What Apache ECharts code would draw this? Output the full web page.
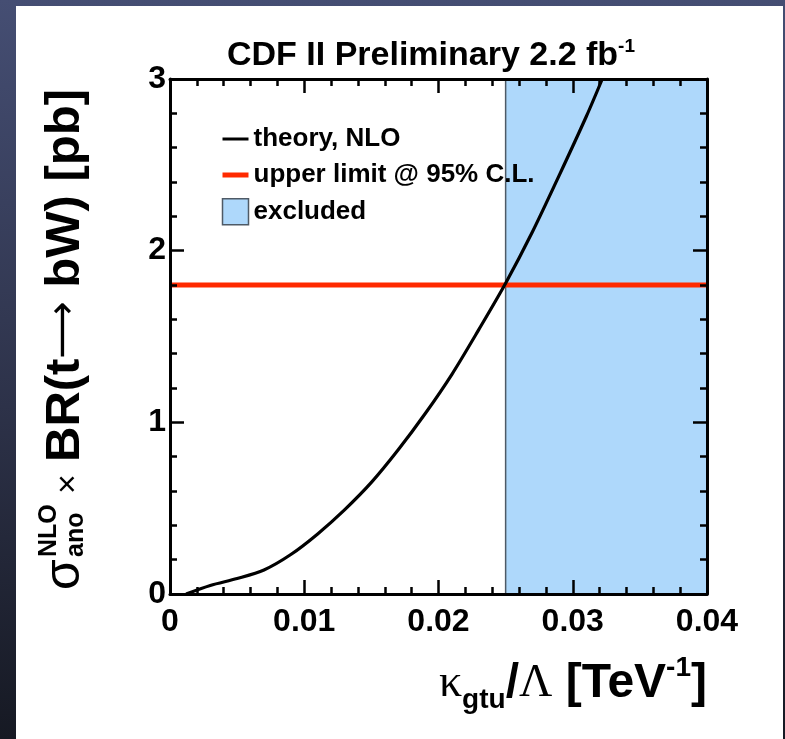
<!DOCTYPE html>
<html>
<head>
<meta charset="utf-8">
<script src="https://cdn.jsdelivr.net/npm/echarts@6/dist/echarts.min.js"></script>
<style>
html, body { margin: 0; padding: 0; }
body {
  width: 785px;
  height: 739px;
  position: relative;
  overflow: hidden;
  background: linear-gradient(to bottom, #454e73 0%, #2d3249 55%, #161923 100%);
}
#panel { position: absolute; left: 16px; top: 6px; width: 767px; height: 733px; background: #fff; }
#chart { position: absolute; left: 0; top: 0; width: 785px; height: 739px; }
</style>
</head>
<body>
<div id="panel"></div>
<div id="chart"></div>
<script>
// theory curve
var kappa = [0.0012, 0.0030, 0.0050, 0.0070, 0.0090, 0.0110, 0.0130, 0.0150, 0.0170,
             0.0190, 0.0210, 0.0230, 0.0250, 0.0270, 0.0290, 0.0310, 0.0322];
var sigmaNLO = [0.00, 0.05, 0.09, 0.14, 0.23, 0.35, 0.49, 0.65, 0.84,
                1.05, 1.28, 1.54, 1.81, 2.11, 2.44, 2.78, 3.0];

// 95% CL upper limit and excluded region
var upperLimit = 1.8;
var excludedFrom = 0.025;

// axes
var xTicks = [0, 0.01, 0.02, 0.03, 0.04];
var xTickLabels = ["0", "0.01", "0.02", "0.03", "0.04"];
var yTicks = [0, 1, 2, 3];
var yTickLabels = ["0", "1", "2", "3"];

var FONT = '"Liberation Sans", Arial, Helvetica, sans-serif';
var SERIF = '"Liberation Serif", "Times New Roman", serif';

var xMin = xTicks[0], xMax = xTicks[xTicks.length - 1];
var yMin = yTicks[0], yMax = yTicks[yTicks.length - 1];

function xAxisCfg(pos, labels) {
  return {
    type: "value",
    position: pos,
    min: xMin,
    max: xMax,
    interval: 0.01,
    z: 10,
    axisLine: { onZero: false, lineStyle: { color: "#000", width: 3 } },
    axisTick: { inside: true, length: 14, lineStyle: { color: "#000", width: 2.5 } },
    minorTick: { show: true, splitNumber: 5, length: 7, lineStyle: { color: "#000", width: 2.5 } },
    splitLine: { show: false },
    minorSplitLine: { show: false },
    axisLabel: {
      show: labels,
      margin: 12,
      color: "#000",
      fontFamily: FONT,
      fontWeight: "bold",
      fontSize: 32,
      formatter: function (v, i) { return xTickLabels[i]; }
    }
  };
}

function yAxisCfg(pos, labels) {
  return {
    type: "value",
    position: pos,
    min: yMin,
    max: yMax,
    interval: 1,
    z: 10,
    axisLine: { onZero: false, lineStyle: { color: "#000", width: 3 } },
    axisTick: { inside: true, length: 14, lineStyle: { color: "#000", width: 2.5 } },
    minorTick: { show: true, splitNumber: 5, length: 7, lineStyle: { color: "#000", width: 2.5 } },
    splitLine: { show: false },
    minorSplitLine: { show: false },
    axisLabel: {
      show: labels,
      margin: 4,
      padding: [0, 0, 10, 0],
      color: "#000",
      fontFamily: FONT,
      fontWeight: "bold",
      fontSize: 32,
      formatter: function (v, i) { return yTickLabels[i]; }
    }
  };
}

var curve = kappa.map(function (k, i) { return [k, sigmaNLO[i]]; });

var chart = echarts.init(document.getElementById("chart"), null, { renderer: "canvas" });

chart.setOption({
  animation: false,
  backgroundColor: "transparent",
  title: {
    text: "{m|CDF II Preliminary 2.2 fb}{s|-1}",
    left: 227,
    top: 37,
    padding: 0,
    textStyle: {
      rich: {
        m: { fontFamily: FONT, fontWeight: "bold", fontSize: 34, lineHeight: 38, color: "#000" },
        s: { fontFamily: FONT, fontWeight: "bold", fontSize: 19, lineHeight: 18, verticalAlign: "top", color: "#000" }
      }
    }
  },
  legend: {
    orient: "vertical",
    left: 215,
    top: 121,
    itemWidth: 26,
    itemHeight: 26,
    itemGap: 10,
    selectedMode: false,
    textStyle: { fontFamily: FONT, fontWeight: "bold", fontSize: 26, color: "#000" },
    data: [
      { name: "theory, NLO", itemStyle: { opacity: 0 }, lineStyle: { width: 3, color: "#000" } },
      { name: "upper limit @ 95% C.L.", itemStyle: { opacity: 0 }, lineStyle: { width: 5, color: "#ff2a00" } },
      { name: "excluded", icon: "rect", itemStyle: { color: "#aed8fb", borderColor: "#4e5a66", borderWidth: 1.5, opacity: 1 } }
    ]
  },
  grid: { left: 170, right: 78, top: 79, bottom: 145 },
  xAxis: [xAxisCfg("bottom", true), xAxisCfg("top", false)],
  yAxis: [yAxisCfg("left", true), yAxisCfg("right", false)],
  series: [
    {
      name: "excluded",
      type: "line",
      data: [[excludedFrom, yMax], [xMax, yMax]],
      symbol: "none",
      color: "#aed8fb",
      lineStyle: { width: 0 },
      areaStyle: { color: "#aed8fb", opacity: 1, origin: "start" },
      z: 1
    },
    {
      name: "boundary",
      type: "line",
      data: [[excludedFrom, yMin], [excludedFrom, yMax]],
      symbol: "none",
      color: "#4e5a66",
      lineStyle: { color: "#4e5a66", width: 1.5 },
      z: 2
    },
    {
      name: "upper limit @ 95% C.L.",
      type: "line",
      data: [[xMin, upperLimit], [xMax, upperLimit]],
      symbol: "none",
      color: "#ff2a00",
      lineStyle: { color: "#ff2a00", width: 5 },
      z: 3
    },
    {
      name: "theory, NLO",
      type: "line",
      data: curve,
      smooth: 0.3,
      symbol: "none",
      color: "#000",
      lineStyle: { color: "#000", width: 3.2 },
      z: 4
    }
  ],
  graphic: [
    {
      // y axis title, reads bottom to top
      type: "group",
      x: 81,
      y: 590,
      rotation: Math.PI / 2,
      children: [
        { type: "text", x: 0, y: -16, style: { text: "σ", font: "50px " + FONT, fill: "#000", verticalAlign: "middle" } },
        { type: "text", x: 33, y: -32, style: { text: "NLO", font: "bold 25px " + FONT, fill: "#000", verticalAlign: "middle" } },
        { type: "text", x: 33, y: -5, style: { text: "ano", font: "bold 25px " + FONT, fill: "#000", verticalAlign: "middle" } },
        { type: "text", x: 96, y: -12, style: { text: "×", font: "34px " + FONT, fill: "#000", verticalAlign: "middle" } },
        {
          type: "text", x: 128, y: -16,
          style: {
            text: "{b|BR(t}{a|⟶}{b| bW) [pb]}",
            verticalAlign: "middle",
            rich: {
              b: { fontFamily: FONT, fontWeight: "bold", fontSize: 49, lineHeight: 49, fill: "#000" },
              a: { fontFamily: "DejaVu Sans", fontSize: 40, lineHeight: 49, fill: "#000" }
            }
          }
        }
      ]
    },
    {
      // x axis title
      type: "text",
      x: 707,
      y: 654,
      style: {
        text: "{k|κ}{sub|gtu}{m|/}{k|Λ}{m| [TeV}{sup|-1}{m|]}",
        align: "right",
        verticalAlign: "top",
        rich: {
          k: { fontFamily: SERIF, fontSize: 46, lineHeight: 60, fill: "#000" },
          m: { fontFamily: FONT, fontWeight: "bold", fontSize: 48, lineHeight: 60, fill: "#000" },
          sub: { fontFamily: FONT, fontWeight: "bold", fontSize: 28, lineHeight: 28, verticalAlign: "bottom", fill: "#000" },
          sup: { fontFamily: FONT, fontWeight: "bold", fontSize: 28, lineHeight: 28, verticalAlign: "top", fill: "#000" }
        }
      }
    }
  ]
});
</script>
</body>
</html>
